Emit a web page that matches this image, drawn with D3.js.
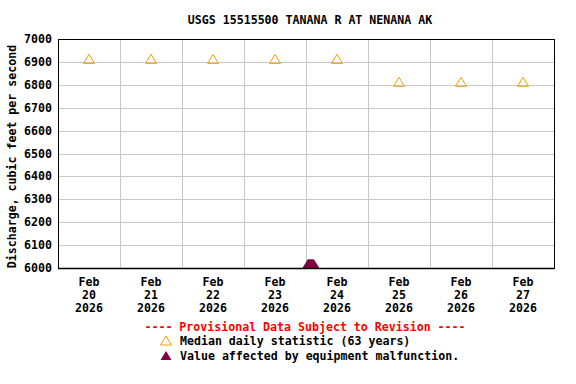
<!DOCTYPE html>
<html>
<head>
<meta charset="utf-8">
<script src="https://cdn.jsdelivr.net/npm/d3@7"></script>
<style>
  body { margin: 0; background: #fff; }
  text { font-family: "DejaVu Sans Mono", monospace; font-weight: bold; }
</style>
</head>
<body>
<div id="chart"></div>
<script>
var days = ['2026-02-20','2026-02-21','2026-02-22','2026-02-23','2026-02-24','2026-02-25','2026-02-26','2026-02-27']
var medianValues = [6900, 6900, 6900, 6900, 6900, 6800, 6800, 6800]
var malfunctionTimes = ['2026-02-24T00:45','2026-02-24T01:00','2026-02-24T01:15','2026-02-24T01:30','2026-02-24T01:45',
  '2026-02-24T02:00','2026-02-24T02:15','2026-02-24T02:30','2026-02-24T02:45','2026-02-24T03:00']
var malfunctionValues = [6000, 6000, 6000, 6000, 6000, 6000, 6000, 6000, 6000, 6000]
var yTicks = [6000, 6100, 6200, 6300, 6400, 6500, 6600, 6700, 6800, 6900, 7000]

var title = 'USGS 15515500 TANANA R AT NENANA AK'
var yLabel = 'Discharge, cubic feet per second'

var width = 576, height = 384
var margin = {left: 58, right: 22, top: 39, bottom: 116}
var parseDay = d3.timeParse('%Y-%m-%d')
var parseTime = d3.timeParse('%Y-%m-%dT%H:%M')

var svg = d3.select('#chart').append('svg')
  .attr('width', width).attr('height', height)

var x = d3.scaleTime()
  .domain([parseDay(days[0]), d3.timeDay.offset(parseDay(days[days.length - 1]), 1)])
  .range([margin.left, width - margin.right])
var y = d3.scaleLinear().domain([6000, 7000]).range([height - margin.bottom, margin.top])

svg.append('defs').append('clipPath').attr('id', 'clip')
  .append('rect')
  .attr('x', margin.left).attr('y', margin.top)
  .attr('width', width - margin.left - margin.right)
  .attr('height', height - margin.top - margin.bottom)

// gridlines
svg.append('g').selectAll('line.h')
  .data(yTicks.slice(1, -1))
  .enter().append('line')
  .attr('x1', margin.left).attr('x2', width - margin.right)
  .attr('y1', d => Math.round(y(d)) + 0.5).attr('y2', d => Math.round(y(d)) + 0.5)
  .attr('stroke', '#c8c8c8')

svg.append('g').selectAll('line.v')
  .data(days.slice(1))
  .enter().append('line')
  .attr('x1', d => Math.round(x(parseDay(d))) + 0.5).attr('x2', d => Math.round(x(parseDay(d))) + 0.5)
  .attr('y1', margin.top).attr('y2', height - margin.bottom)
  .attr('stroke', '#c8c8c8')

// frame
svg.append('rect')
  .attr('x', margin.left + 0.5).attr('y', margin.top + 0.5)
  .attr('width', width - margin.left - margin.right)
  .attr('height', height - margin.top - margin.bottom)
  .attr('fill', 'none').attr('stroke', '#000')

// y tick labels
svg.append('g').selectAll('text')
  .data(yTicks)
  .enter().append('text')
  .attr('x', margin.left - 6)
  .attr('y', d => y(d) + 4)
  .attr('text-anchor', 'end')
  .attr('font-size', '11.6px')
  .text(d => d)

// x tick labels (centered on each day)
var fmt = [d3.timeFormat('%b'), d3.timeFormat('%d'), d3.timeFormat('%Y')]
var xl = svg.append('g').selectAll('text')
  .data(days)
  .enter().append('text')
  .attr('text-anchor', 'middle')
  .attr('font-size', '11.6px')
xl.each(function (d) {
  var t = d3.select(this)
  var noon = d3.timeHour.offset(parseDay(d), 12)
  fmt.forEach(function (f, i) {
    t.append('tspan').attr('x', x(noon)).attr('y', height - margin.bottom + 18 + i * 13).text(f(parseDay(d)))
  })
})

// title
svg.append('text')
  .attr('x', (margin.left + width - margin.right) / 2 + 4)
  .attr('y', 24)
  .attr('text-anchor', 'middle')
  .attr('font-size', '11.6px')
  .text(title)

// y axis label
svg.append('text')
  .attr('transform', 'translate(16,' + ((margin.top + height - margin.bottom) / 2 + 3) + ') rotate(-90)')
  .attr('text-anchor', 'middle')
  .attr('font-size', '11.6px')
  .text(yLabel)

function tri(px, py) {
  return 'M' + (px - 5.5) + ',' + py + 'L' + px + ',' + (py - 9) + 'L' + (px + 5.5) + ',' + py + 'Z'
}

// median markers
svg.append('g').selectAll('path')
  .data(days)
  .enter().append('path')
  .attr('d', (d, i) => tri(x(d3.timeHour.offset(parseDay(d), 12)), y(medianValues[i]) + 1.5))
  .attr('fill', 'none').attr('stroke', '#f0a000').attr('stroke-width', 1)

// malfunction markers
svg.append('g').attr('clip-path', 'url(#clip)').selectAll('path')
  .data(malfunctionTimes)
  .enter().append('path')
  .attr('d', (d, i) => tri(x(parseTime(d)), y(malfunctionValues[i])))
  .attr('fill', '#800040')

// bottom axis line
svg.append('line')
  .attr('x1', margin.left).attr('x2', width - margin.right)
  .attr('y1', height - margin.bottom + 0.5).attr('y2', height - margin.bottom + 0.5)
  .attr('stroke', '#000').attr('stroke-width', 1.5)

// legend
svg.append('text')
  .attr('x', 305).attr('y', 331)
  .attr('text-anchor', 'middle')
  .attr('font-size', '11.6px')
  .attr('fill', '#ff0000')
  .text('---- Provisional Data Subject to Revision ----')

svg.append('path').attr('d', tri(166, 345)).attr('fill', 'none').attr('stroke', '#f0a000')
svg.append('text').attr('x', 180).attr('y', 345).attr('font-size', '11.6px')
  .text('Median daily statistic (63 years)')

svg.append('path').attr('d', tri(166, 360)).attr('fill', '#800040')
svg.append('text').attr('x', 180).attr('y', 360).attr('font-size', '11.6px')
  .text('Value affected by equipment malfunction.')
</script>
</body>
</html>
